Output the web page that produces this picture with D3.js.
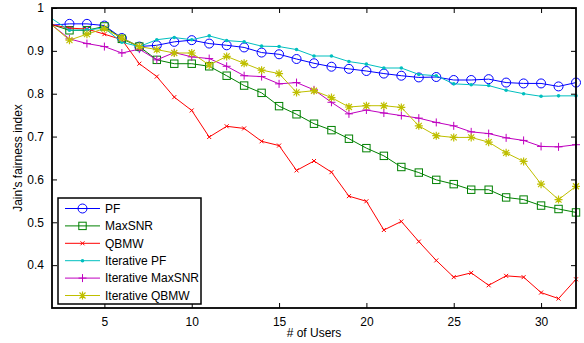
<!DOCTYPE html>
<html>
<head>
<meta charset="utf-8">
<script src="https://cdn.jsdelivr.net/npm/d3@7"></script>
<style>
  body { margin: 0; background: #fff; }
  text { font-family: "Liberation Sans", Arial, sans-serif; font-size: 12px; fill: #000; }
</style>
</head>
<body>
<div id="grafico"></div>
<script>
// number of users (x)
const users = d3.range(2, 33);

const pf = [0.960, 0.963, 0.963, 0.959, 0.930, 0.910, 0.913, 0.921, 0.925, 0.917, 0.913, 0.908, 0.896, 0.892, 0.881,
  0.871, 0.863, 0.858, 0.853, 0.847, 0.842, 0.838, 0.839, 0.832, 0.832, 0.834, 0.826, 0.824, 0.824, 0.817, 0.826];
const maxSnr = [0.961, 0.948, 0.948, 0.957, 0.928, 0.910, 0.879, 0.870, 0.870, 0.864, 0.842, 0.819, 0.802, 0.771, 0.752,
  0.730, 0.715, 0.695, 0.673, 0.655, 0.629, 0.616, 0.599, 0.589, 0.576, 0.576, 0.558, 0.553, 0.539, 0.531, 0.523];
const qbmw = [0.961, 0.953, 0.951, 0.939, 0.926, 0.870, 0.840, 0.792, 0.761, 0.699, 0.724, 0.719, 0.689, 0.679, 0.621,
  0.643, 0.617, 0.561, 0.549, 0.482, 0.502, 0.455, 0.411, 0.372, 0.382, 0.353, 0.375, 0.372, 0.336, 0.322, 0.367];
const itPf = [0.975, 0.948, 0.949, 0.953, 0.920, 0.910, 0.926, 0.931, 0.926, 0.935, 0.924, 0.921, 0.911, 0.910, 0.903,
  0.888, 0.888, 0.875, 0.869, 0.860, 0.860, 0.845, 0.842, 0.823, 0.821, 0.819, 0.808, 0.800, 0.794, 0.795, 0.795];
const itMaxSnr = [0.960, 0.928, 0.917, 0.910, 0.895, 0.904, 0.879, 0.896, 0.886, 0.882, 0.864, 0.842, 0.840, 0.823, 0.826,
  0.809, 0.780, 0.753, 0.762, 0.755, 0.749, 0.743, 0.733, 0.725, 0.711, 0.707, 0.697, 0.691, 0.677, 0.676, 0.681];
const itQbmw = [0.960, 0.925, 0.939, 0.952, 0.930, 0.910, 0.903, 0.895, 0.895, 0.867, 0.887, 0.871, 0.855, 0.847, 0.803,
  0.807, 0.791, 0.769, 0.772, 0.772, 0.768, 0.725, 0.702, 0.698, 0.698, 0.687, 0.662, 0.642, 0.589, 0.553, 0.584];

const seriesNames = ["PF", "MaxSNR", "QBMW", "Iterative PF", "Iterative MaxSNR", "Iterative QBMW"];
const xTicks = [5, 10, 15, 20, 25, 30];
const yTicks = [0.4, 0.5, 0.6, 0.7, 0.8, 0.9, 1];

const series = [
  { name: seriesNames[0], values: pf, color: "#0000ff", marker: "circle" },
  { name: seriesNames[1], values: maxSnr, color: "#008000", marker: "square" },
  { name: seriesNames[2], values: qbmw, color: "#ff0000", marker: "times" },
  { name: seriesNames[3], values: itPf, color: "#00bfbf", marker: "dot" },
  { name: seriesNames[4], values: itMaxSnr, color: "#bf00bf", marker: "plus" },
  { name: seriesNames[5], values: itQbmw, color: "#bfbf00", marker: "star" }
];

var ancho = 584, alto = 343;
var margen = { superior: 8, derecho: 8, inferior: 35, izquierdo: 52 };
var w = ancho - margen.izquierdo - margen.derecho;
var h = alto - margen.superior - margen.inferior;

var svg = d3.select("#grafico").append("svg")
  .attr("width", ancho).attr("height", alto);

var defs = svg.append("defs");
defs.append("clipPath").attr("id", "clip")
  .append("rect").attr("x", 0).attr("y", -6).attr("width", w + 6).attr("height", h + 12);

var g = svg.append("g")
  .attr("transform", "translate(" + margen.izquierdo + "," + margen.superior + ")");

var x = d3.scaleLinear().domain([2, 32]).range([0, w]);
var y = d3.scaleLinear().domain([0.3, 1]).range([h, 0]);

// marker shapes
function drawMarker(sel, type, color) {
  if (type === "circle") {
    sel.append("circle").attr("r", 4.5).attr("fill", "none").attr("stroke", color).attr("stroke-width", 1);
  } else if (type === "square") {
    sel.append("rect").attr("x", -3.7).attr("y", -3.7).attr("width", 7.4).attr("height", 7.4)
      .attr("fill", "none").attr("stroke", color).attr("stroke-width", 1);
  } else if (type === "times") {
    sel.append("path").attr("d", "M-2,-2L2,2M-2,2L2,-2").attr("stroke", color).attr("stroke-width", 1);
  } else if (type === "dot") {
    sel.append("circle").attr("r", 1.8).attr("fill", color);
  } else if (type === "plus") {
    sel.append("path").attr("d", "M-4,0L4,0M0,-4L0,4").attr("stroke", color).attr("stroke-width", 1);
  } else if (type === "star") {
    sel.append("path").attr("d", "M-4,0L4,0M0,-4L0,4M-3,-3L3,3M-3,3L3,-3").attr("stroke", color).attr("stroke-width", 1.2);
  }
}

var line = d3.line().x(function (d, i) { return x(users[i]); }).y(function (d) { return y(d); });

var plot = g.append("g").attr("clip-path", "url(#clip)");

series.forEach(function (s) {
  plot.append("path")
    .datum(s.values)
    .attr("fill", "none")
    .attr("stroke", s.color)
    .attr("stroke-width", 1)
    .attr("d", line);
  // first point sits on the left axis and its marker is not shown
  plot.selectAll(null)
    .data(s.values.map(function (v, i) { return [users[i], v]; }).slice(1))
    .enter().append("g")
    .attr("transform", function (d) { return "translate(" + x(d[0]) + "," + y(d[1]) + ")"; })
    .each(function () { drawMarker(d3.select(this), s.marker, s.color); });
});

// axes (MATLAB style, ticks inward on all sides)
g.append("g")
  .attr("transform", "translate(0," + h + ")")
  .call(d3.axisBottom(x).tickValues(xTicks).tickSizeInner(-5).tickSizeOuter(0).tickPadding(9))
  .call(function (a) { a.select(".domain").remove(); });
g.append("g")
  .call(d3.axisTop(x).tickValues(xTicks).tickSizeInner(-5).tickSizeOuter(0).tickFormat(""))
  .call(function (a) { a.select(".domain").remove(); });
g.append("g")
  .call(d3.axisLeft(y).tickValues(yTicks).tickSizeInner(-5).tickSizeOuter(0).tickPadding(8).tickFormat(d3.format("")))
  .call(function (a) { a.select(".domain").remove(); });
g.append("g")
  .attr("transform", "translate(" + w + ",0)")
  .call(d3.axisRight(y).tickValues(yTicks).tickSizeInner(-5).tickSizeOuter(0).tickFormat(""))
  .call(function (a) { a.select(".domain").remove(); });

g.selectAll(".tick line").attr("stroke", "#000").attr("stroke-width", 1);
g.selectAll(".tick text").style("font-size", "12px").style("font-family", "Liberation Sans, Arial, sans-serif");

g.append("rect")
  .attr("x", 0).attr("y", 0).attr("width", w).attr("height", h)
  .attr("fill", "none").attr("stroke", "#000").attr("stroke-width", 1.8);

// axis labels
svg.append("text")
  .attr("x", margen.izquierdo + w / 2).attr("y", 337)
  .attr("text-anchor", "middle")
  .text("# of Users");
svg.append("text")
  .attr("transform", "translate(22," + (margen.superior + h / 2) + ") rotate(-90)")
  .attr("text-anchor", "middle")
  .text("Jain's fairness index");

// legend
var leg = svg.append("g").attr("transform", "translate(58,198)");
leg.append("rect")
  .attr("x", 0).attr("y", 0).attr("width", 143).attr("height", 106)
  .attr("fill", "#fff").attr("stroke", "#000").attr("stroke-width", 1.5);
series.forEach(function (s, i) {
  var row = leg.append("g").attr("transform", "translate(0," + (10.5 + i * 17.4) + ")");
  row.append("line").attr("x1", 7).attr("x2", 42).attr("y1", 0).attr("y2", 0)
    .attr("stroke", s.color).attr("stroke-width", 1);
  drawMarker(row.append("g").attr("transform", "translate(24.5,0)"), s.marker, s.color);
  row.append("text").attr("x", 47).attr("y", 0).attr("dy", "0.35em").text(s.name);
});
</script>
</body>
</html>
